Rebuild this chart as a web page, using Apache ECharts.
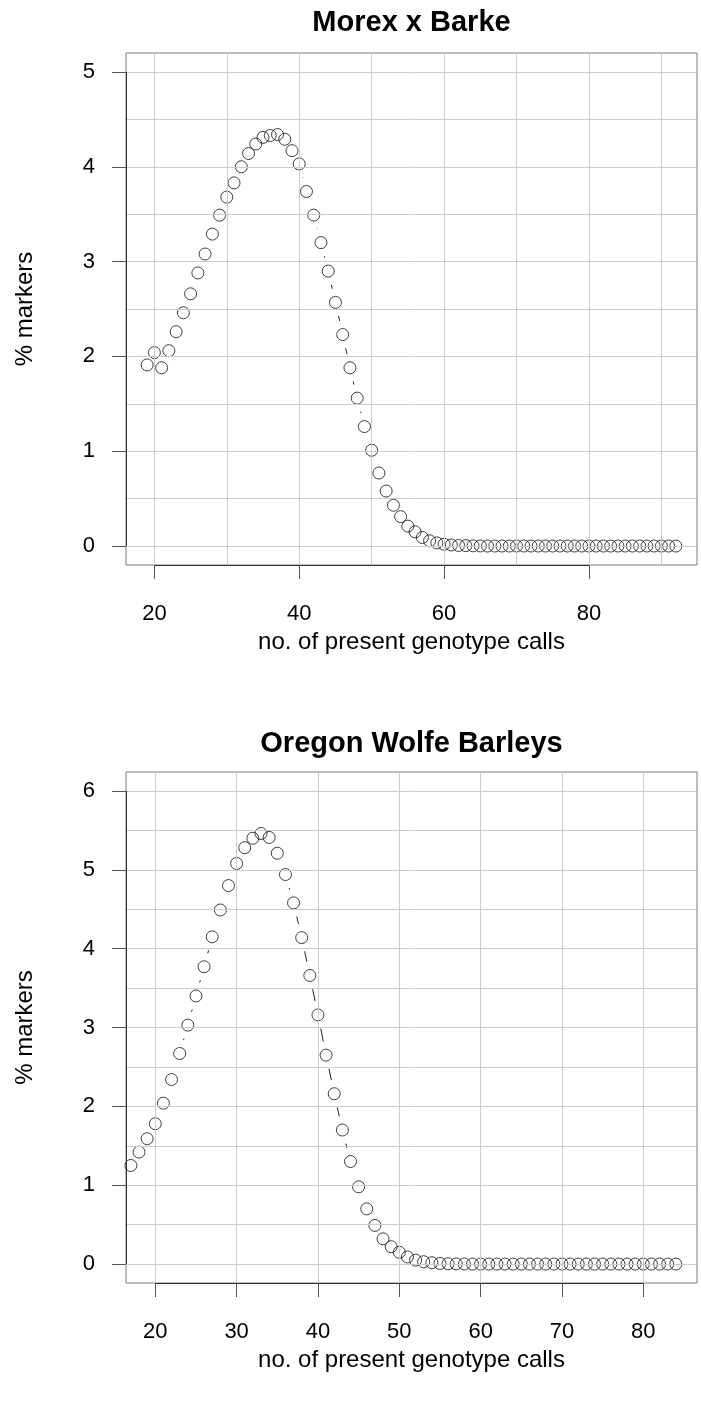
<!DOCTYPE html>
<html>
<head>
<meta charset="utf-8">
<script src="https://cdn.jsdelivr.net/npm/echarts@6/dist/echarts.min.js"></script>
<style>
  html, body { margin: 0; padding: 0; background: #fff; }
  #chart { width: 701px; height: 1405px; }
</style>
</head>
<body>
<div id="chart"></div>
<script>
// Morex x Barke: % of markers by number of present genotype calls
const callsTop = [19, 20, 21, 22, 23, 24, 25, 26, 27, 28, 29, 30, 31, 32, 33, 34, 35, 36, 37, 38,
  39, 40, 41, 42, 43, 44, 45, 46, 47, 48, 49, 50, 51, 52, 53, 54, 55, 56, 57, 58,
  59, 60, 61, 62, 63, 64, 65, 66, 67, 68, 69, 70, 71, 72, 73, 74, 75, 76, 77, 78,
  79, 80, 81, 82, 83, 84, 85, 86, 87, 88, 89, 90, 91, 92];
const pctTop = [1.91, 2.04, 1.88, 2.06, 2.26, 2.46, 2.66, 2.88, 3.08, 3.29, 3.49, 3.68, 3.83, 4.00, 4.14, 4.24, 4.31, 4.33, 4.34, 4.29,
  4.17, 4.03, 3.74, 3.49, 3.20, 2.90, 2.57, 2.23, 1.88, 1.56, 1.26, 1.01, 0.77, 0.58, 0.43, 0.31, 0.21, 0.15, 0.09, 0.055,
  0.033, 0.019, 0.011, 0.006, 0.004, 0.002, 0.001, 0, 0, 0, 0, 0, 0, 0, 0, 0, 0, 0, 0, 0,
  0, 0, 0, 0, 0, 0, 0, 0, 0, 0, 0, 0, 0, 0];

// Oregon Wolfe Barleys
const callsBottom = [17, 18, 19, 20, 21, 22, 23, 24, 25, 26, 27, 28, 29, 30, 31, 32, 33, 34, 35, 36,
  37, 38, 39, 40, 41, 42, 43, 44, 45, 46, 47, 48, 49, 50, 51, 52, 53, 54, 55, 56,
  57, 58, 59, 60, 61, 62, 63, 64, 65, 66, 67, 68, 69, 70, 71, 72, 73, 74, 75, 76,
  77, 78, 79, 80, 81, 82, 83, 84];
const pctBottom = [1.25, 1.42, 1.59, 1.78, 2.04, 2.34, 2.67, 3.03, 3.40, 3.77, 4.15, 4.49, 4.80, 5.08, 5.28, 5.40, 5.46, 5.41, 5.21, 4.94,
  4.58, 4.14, 3.66, 3.16, 2.65, 2.16, 1.70, 1.30, 0.98, 0.70, 0.49, 0.32, 0.22, 0.15, 0.09, 0.05, 0.03, 0.017, 0.008, 0.004,
  0.002, 0.001, 0, 0, 0, 0, 0, 0, 0, 0, 0, 0, 0, 0, 0, 0, 0, 0, 0, 0,
  0, 0, 0, 0, 0, 0, 0, 0];

// Tick labels and grid lines
const xTicksTop = [20, 40, 60, 80];
const yTicksTop = [0, 1, 2, 3, 4, 5];
const xGridTop = [20, 30, 40, 50, 60, 70, 80, 90];
const yGridTop = [0, 0.5, 1, 1.5, 2, 2.5, 3, 3.5, 4, 4.5, 5];

const xTicksBottom = [20, 30, 40, 50, 60, 70, 80];
const yTicksBottom = [0, 1, 2, 3, 4, 5, 6];
const xGridBottom = [20, 30, 40, 50, 60, 70, 80];
const yGridBottom = [0, 0.5, 1, 1.5, 2, 2.5, 3, 3.5, 4, 4.5, 5, 5.5, 6];

const titles = ['Morex x Barke', 'Oregon Wolfe Barleys'];
const xName = 'no. of present genotype calls';
const yName = '% markers';

const FONT = '"Liberation Sans", Arial, Helvetica, sans-serif';
const GAP = 14; // gap left around each point on the connecting line

const panels = [
  { calls: callsTop, pct: pctTop, xr: [16.08, 94.92], yr: [-0.2, 5.2],
    xTicks: xTicksTop, yTicks: yTicksTop, xGrid: xGridTop, yGrid: yGridTop,
    grid: { left: 126, width: 571, top: 53, height: 512 }, titleY: 23 },
  { calls: callsBottom, pct: pctBottom, xr: [16.4, 86.6], yr: [-0.24, 6.24],
    xTicks: xTicksBottom, yTicks: yTicksBottom, xGrid: xGridBottom, yGrid: yGridBottom,
    grid: { left: 126, width: 571, top: 772, height: 511 }, titleY: 744 }
];

const grids = [], xAxes = [], yAxes = [], series = [], graphics = [];

panels.forEach((p, k) => {
  grids.push(Object.assign({ show: true, borderColor: '#7a7a7a', borderWidth: 1,
    backgroundColor: 'transparent' }, p.grid));

  const tickStyle = { show: true, inside: false, length: 14, lineStyle: { color: '#555', width: 1 } };
  const labelStyle = { color: '#000', fontFamily: FONT, fontSize: 22 };

  xAxes.push({
    gridIndex: k, type: 'value', min: p.xr[0], max: p.xr[1], position: 'bottom',
    axisLine: { show: false, onZero: false },
    splitLine: { show: false },
    axisTick: Object.assign({ customValues: p.xTicks }, tickStyle),
    axisLabel: Object.assign({ customValues: p.xTicks, margin: 38 }, labelStyle)
  });
  yAxes.push({
    gridIndex: k, type: 'value', min: p.yr[0], max: p.yr[1], position: 'left',
    axisLine: { show: false, onZero: false },
    splitLine: { show: false },
    axisTick: Object.assign({ customValues: p.yTicks }, tickStyle),
    axisLabel: Object.assign({ customValues: p.yTicks, margin: 31 }, labelStyle)
  });

  // light grid lines plus the darker axis lines spanning the labelled ticks
  const gridLineStyle = { color: '#cccccc', width: 1, type: 'solid' };
  const axisLineStyle = { color: '#333', width: 1, type: 'solid' };
  const markData = [];
  p.xGrid.forEach(v => markData.push({ xAxis: v, lineStyle: gridLineStyle }));
  p.yGrid.forEach(v => markData.push({ yAxis: v, lineStyle: gridLineStyle }));
  markData.push([
    { coord: [p.xTicks[0], p.yr[0]], lineStyle: axisLineStyle },
    { coord: [p.xTicks[p.xTicks.length - 1], p.yr[0]] }
  ]);
  markData.push([
    { coord: [p.xr[0], p.yTicks[0]], lineStyle: axisLineStyle },
    { coord: [p.xr[0], p.yTicks[p.yTicks.length - 1]] }
  ]);

  series.push({
    type: 'scatter', xAxisIndex: k, yAxisIndex: k, data: [], z: 1, silent: true,
    markLine: { silent: true, symbol: ['none', 'none'], label: { show: false },
      animation: false, data: markData }
  });

  const pts = p.calls.map((c, i) => [c, p.pct[i]]);

  // connecting line with gaps around the points
  series.push({
    type: 'custom', xAxisIndex: k, yAxisIndex: k, z: 3, silent: true,
    data: pts,
    renderItem: function (params, api) {
      const i = params.dataIndex;
      if (i >= pts.length - 1) return { type: 'group', children: [] };
      const a = api.coord(pts[i]);
      const b = api.coord(pts[i + 1]);
      const dx = b[0] - a[0], dy = b[1] - a[1];
      const len = Math.sqrt(dx * dx + dy * dy);
      if (len <= 2 * GAP) return { type: 'group', children: [] };
      const ux = dx / len, uy = dy / len;
      return {
        type: 'line',
        shape: { x1: a[0] + ux * GAP, y1: a[1] + uy * GAP, x2: b[0] - ux * GAP, y2: b[1] - uy * GAP },
        style: { stroke: '#222', lineWidth: 1 }
      };
    }
  });

  series.push({
    type: 'scatter', xAxisIndex: k, yAxisIndex: k, z: 4, silent: true,
    data: pts, symbol: 'circle', symbolSize: 12,
    itemStyle: { color: 'rgba(0,0,0,0)', borderColor: '#111', borderWidth: 1 }
  });

  const cx = p.grid.left + p.grid.width / 2;
  graphics.push({
    type: 'text', x: cx, y: p.titleY,
    style: { text: titles[k], font: 'bold 29px ' + FONT, fill: '#000',
      textAlign: 'center', textVerticalAlign: 'middle' }
  });
  graphics.push({
    type: 'text', x: cx, y: p.grid.top + p.grid.height + 77,
    style: { text: xName, font: '24px ' + FONT, fill: '#000',
      textAlign: 'center', textVerticalAlign: 'middle' }
  });
  graphics.push({
    type: 'text', x: 25, y: p.grid.top + p.grid.height / 2, rotation: Math.PI / 2,
    style: { text: yName, font: '24px ' + FONT, fill: '#000',
      textAlign: 'center', textVerticalAlign: 'middle' }
  });
});

const chart = echarts.init(document.getElementById('chart'), null, { renderer: 'canvas' });
chart.setOption({
  animation: false,
  backgroundColor: '#fff',
  grid: grids,
  xAxis: xAxes,
  yAxis: yAxes,
  series: series,
  graphic: graphics
});
</script>
</body>
</html>
